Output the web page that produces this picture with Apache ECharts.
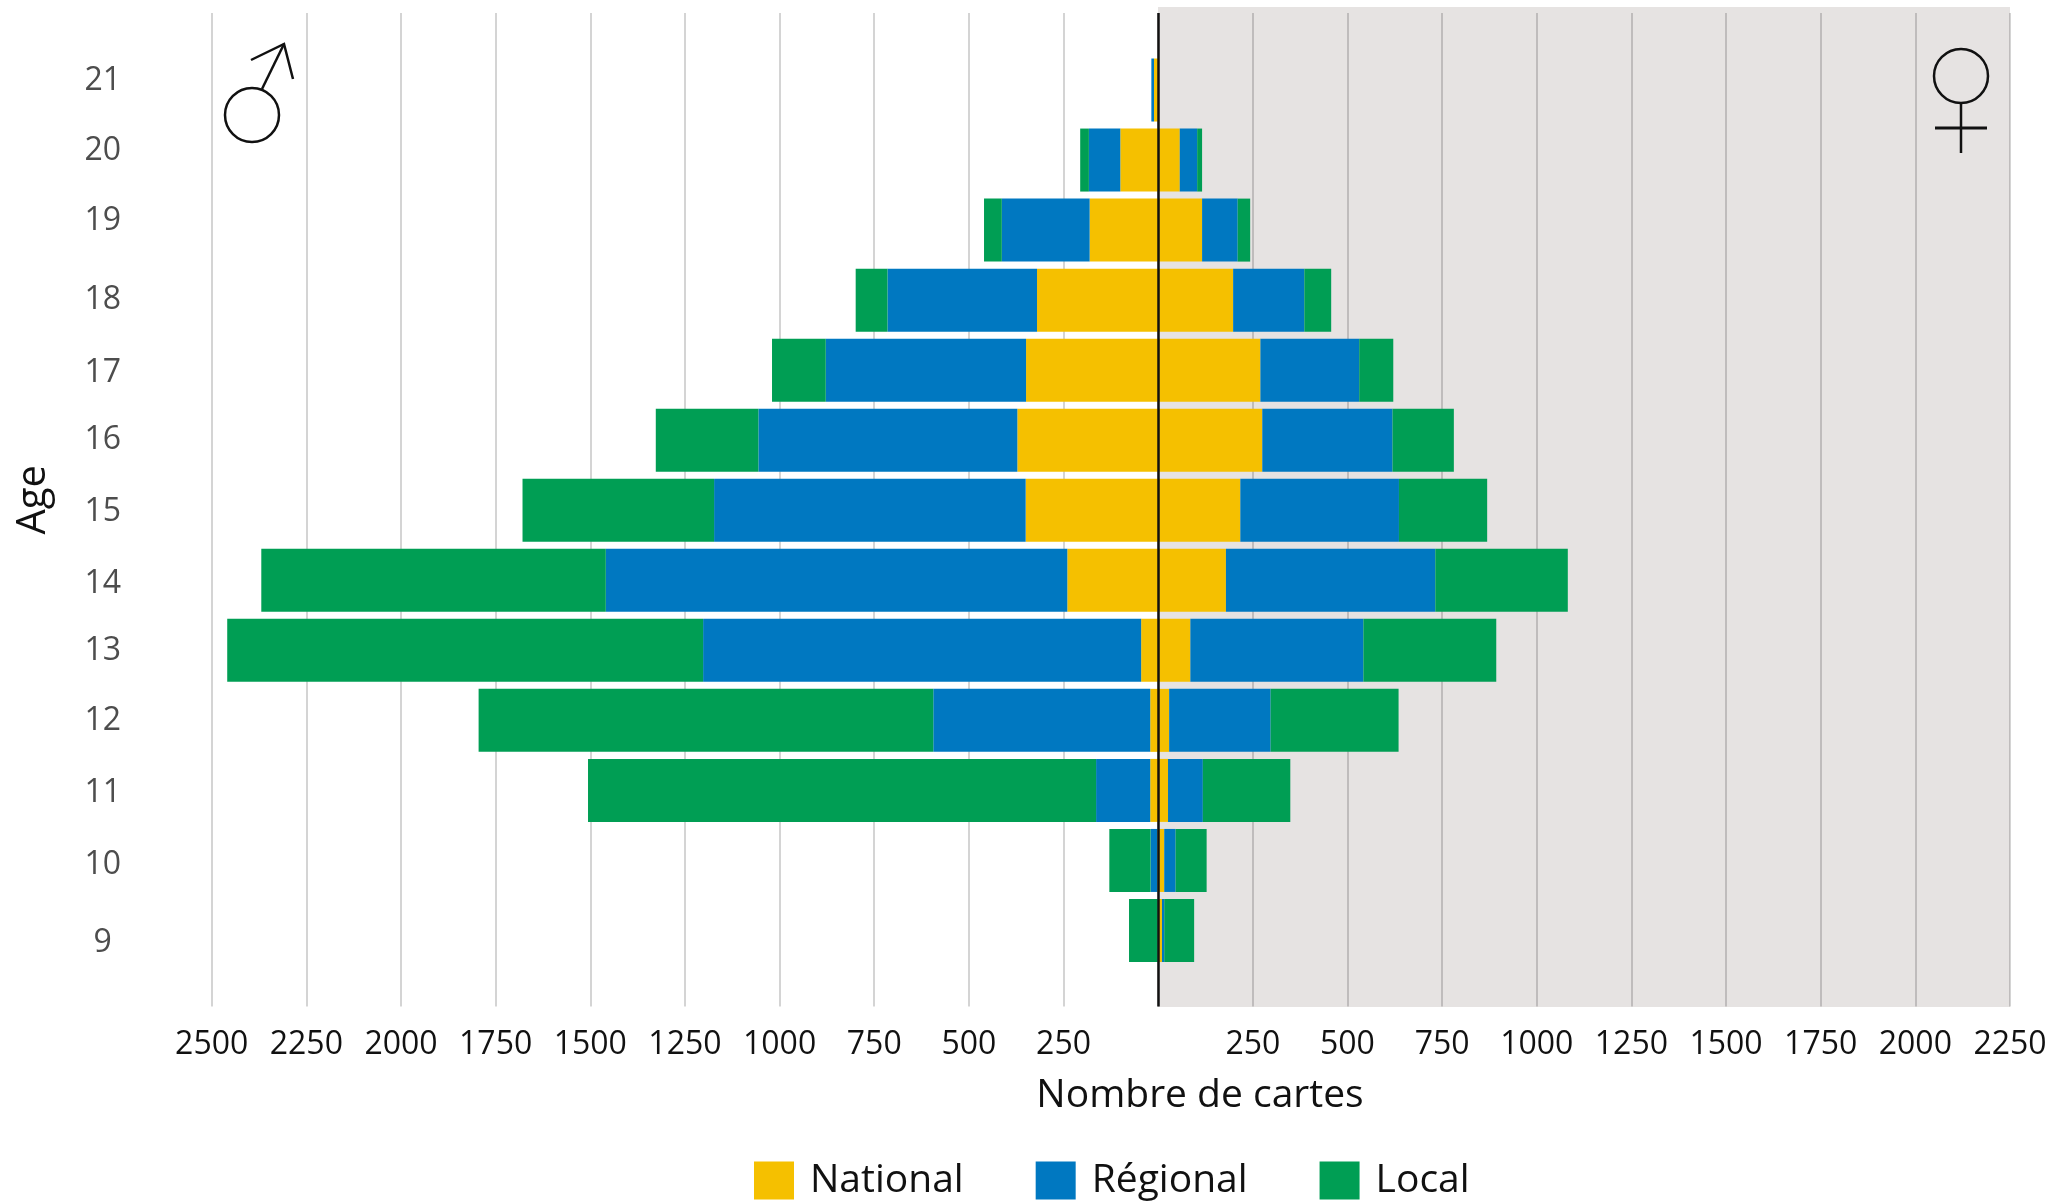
<!DOCTYPE html>
<html>
<head>
<meta charset="utf-8">
<style>
  html, body { margin: 0; background: #fff; }
  #chart { width: 2052px; height: 1204px; }
</style>
<script src="https://cdn.jsdelivr.net/npm/echarts@6/dist/echarts.min.js"></script>
</head>
<body>
<div id="chart"></div>
<script>
// ages, top of the pyramid first
const ages = [21, 20, 19, 18, 17, 16, 15, 14, 13, 12, 11, 10, 9];

// garcons
const maleNational = [11, 100, 181, 320, 349, 372, 350, 240, 45, 21, 21, 2, 1];
const maleRegional = [7, 83, 232, 395, 529, 684, 823, 1219, 1157, 573, 143, 18, 0];
const maleLocal = [0, 23, 47, 84, 142, 271, 506, 910, 1257, 1201, 1342, 109, 76];

// filles
const femaleNational = [1, 57, 116, 198, 270, 275, 217, 179, 85, 29, 26, 16, 10];
const femaleRegional = [0, 46, 94, 188, 261, 344, 419, 553, 457, 268, 92, 30, 6];
const femaleLocal = [0, 13, 33, 71, 90, 162, 233, 350, 351, 338, 231, 82, 79];

// the age labels do not sit exactly on their bars in the original
const ageLabelPositions = [21.13, 20.13, 19.13, 18.01, 16.96, 16.01, 14.98, 13.95, 12.99, 11.99, 10.97, 9.94, 8.82];

const colors = { National: "#f5c000", "Régional": "#0078c1", Local: "#009e54" };
const fontFamily = "'Open Sans', sans-serif";

// negatives go left, positives right: one stack is enough for both sides
function barSeries(name, data) {
  return {
    name: name,
    type: "bar",
    stack: "cartes",
    xAxisIndex: 0,
    yAxisIndex: 0,
    barWidth: 63,
    itemStyle: { color: colors[name] },
    data: data,
  };
}

const chart = echarts.init(document.getElementById("chart"));
chart.setOption({
  animation: false,
  textStyle: { fontFamily: fontFamily },
  title: {
    text: "Nombre de cartes",
    left: 1195,
    top: 1071,
    textAlign: "center",
    textStyle: { fontFamily: fontFamily, fontSize: 39, fontWeight: "normal", color: "#111" },
  },
  legend: {
    left: 754,
    top: 1161,
    padding: 0,
    itemWidth: 40,
    itemHeight: 38,
    itemGap: 72,
    icon: "rect",
    data: ["National", "Régional", "Local"],
    textStyle: { fontFamily: fontFamily, fontSize: 39, color: "#111", padding: [5, 0, 0, 11] },
  },
  // grid 0 holds the bars, grid 1 the frame: gridlines and tick labels run past the bars
  grid: [
    { left: 211.7, width: 1798.3, top: 55, height: 910.5, outerBoundsMode: "none" },
    { left: 211.7, width: 1798.3, top: 13, height: 993.5, outerBoundsMode: "none" },
  ],
  xAxis: [
    { type: "value", gridIndex: 0, min: -2500, max: 2250, show: false },
    {
      type: "value",
      gridIndex: 1,
      min: -2500,
      max: 2250,
      interval: 250,
      axisLine: { show: false },
      axisTick: { show: false },
      axisLabel: {
        margin: 22,
        fontSize: 32,
        color: "#111",
        formatter: (v) => (v === 0 ? "" : String(Math.abs(v))),
      },
      splitLine: { show: true, lineStyle: { color: "rgba(0,0,0,0.17)", width: 2 } },
    },
  ],
  yAxis: [
    { type: "category", gridIndex: 0, data: ages, inverse: true, show: false },
    {
      type: "value",
      gridIndex: 1,
      min: 7.915,
      max: 22.1,
      name: "Age",
      nameLocation: "middle",
      nameGap: 140,
      nameTextStyle: { fontSize: 40, color: "#111", padding: [0, 0, 18, 20] },
      axisLine: { show: false, onZero: false },
      axisTick: { show: false },
      splitLine: { show: false },
      axisLabel: {
        customValues: ageLabelPositions,
        align: "center",
        margin: 109,
        fontSize: 32,
        color: "#4d4d4d",
        formatter: (v) => String(Math.round(v)),
      },
    },
  ],
  series: [
    barSeries("National", maleNational.map((v) => -v)),
    barSeries("Régional", maleRegional.map((v) => -v)),
    barSeries("Local", maleLocal.map((v) => -v)),
    barSeries("National", femaleNational),
    barSeries("Régional", femaleRegional),
    barSeries("Local", femaleLocal),
    {
      // axe central, au-dessus des barres
      type: "line",
      xAxisIndex: 1,
      yAxisIndex: 1,
      z: 10,
      data: [],
      markLine: {
        silent: true,
        symbol: "none",
        label: { show: false },
        lineStyle: { color: "#111", width: 2.5, type: "solid" },
        data: [{ xAxis: 0 }],
      },
    },
  ],
  graphic: [
    // fond gris du cote filles
    { type: "rect", z: -10, silent: true, shape: { x: 1158, y: 7, width: 852, height: 1000 }, style: { fill: "#e6e3e2" } },
    // symbole masculin
    { type: "circle", silent: true, shape: { cx: 252, cy: 115, r: 27 }, style: { fill: "none", stroke: "#111", lineWidth: 2.5 } },
    { type: "polyline", silent: true, shape: { points: [[262, 89], [284, 44]] }, style: { fill: "none", stroke: "#111", lineWidth: 2.5 } },
    { type: "polyline", silent: true, shape: { points: [[251, 60], [284, 44], [293, 79]] }, style: { fill: "none", stroke: "#111", lineWidth: 2.5 } },
    // symbole feminin
    { type: "circle", silent: true, shape: { cx: 1961, cy: 76, r: 27 }, style: { fill: "none", stroke: "#111", lineWidth: 2.5 } },
    { type: "polyline", silent: true, shape: { points: [[1961, 103], [1961, 153]] }, style: { fill: "none", stroke: "#111", lineWidth: 2.5 } },
    { type: "polyline", silent: true, shape: { points: [[1935, 128], [1987, 128]] }, style: { fill: "none", stroke: "#111", lineWidth: 3 } },
  ],
});
</script>
</body>
</html>
